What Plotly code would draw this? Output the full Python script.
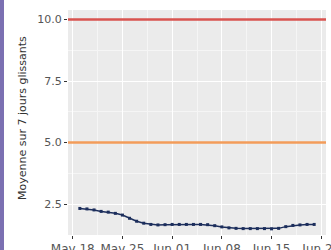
import plotly.graph_objects as go
import pandas as pd

dates = pd.date_range("2020-05-19", "2020-06-21", freq="D").strftime("%Y-%m-%d").tolist()
values = [2.32, 2.30, 2.26, 2.20, 2.17, 2.12, 2.05, 1.92, 1.80, 1.72, 1.67, 1.65,
          1.66, 1.67, 1.67, 1.67, 1.67, 1.67, 1.66, 1.62, 1.57, 1.53, 1.51, 1.50,
          1.50, 1.50, 1.50, 1.49, 1.51, 1.58, 1.63, 1.65, 1.67, 1.67]
thresholds = [10.0, 5.0]
threshold_colors = ["#D9534F", "#F39C5A"]
x_ticks = ["2020-05-18", "2020-05-25", "2020-06-01", "2020-06-08", "2020-06-15", "2020-06-22"]
x_labels = ["May 18", "May 25", "Jun 01", "Jun 08", "Jun 15", "Jun 22"]
y_ticks = [2.5, 5.0, 7.5, 10.0]
y_title = "Moyenne sur 7 jours glissants"

L, R, T, B = 68, 5, 10, 15
W, H = 331, 250
pw, ph = W - L - R, H - T - B

shapes = [dict(type="line", xref="paper", yref="y", x0=0, x1=1, y0=t, y1=t,
               line=dict(color=c, width=2.5), layer="above")
          for t, c in zip(thresholds, threshold_colors)]
shapes.append(dict(type="rect", xref="paper", yref="paper",
                   x0=-L/pw, x1=-(L-4)/pw, y0=-B/ph, y1=1+T/ph,
                   fillcolor="#7B70B2", line=dict(width=0), layer="above"))

fig = go.Figure()
fig.add_trace(go.Scatter(x=dates, y=values, mode="lines+markers",
                         line=dict(color="#1C2E5C", width=1.5),
                         marker=dict(color="#1C2E5C", size=3, symbol="square"),
                         showlegend=False))

fig.update_layout(
    width=W, height=H,
    margin=dict(l=L, r=R, t=T, b=B),
    paper_bgcolor="white", plot_bgcolor="#EBEBEB",
    font=dict(family="DejaVu Sans", color="#4D4D4D", size=10),
    showlegend=False,
    shapes=shapes,
    annotations=[dict(text=y_title, xref="paper", yref="paper",
                      x=(22-L)/pw, y=(H-B-118)/ph, textangle=-90,
                      showarrow=False, xanchor="center", yanchor="middle",
                      font=dict(size=11, color="#333333"))],
)
fig.update_xaxes(
    type="date", automargin=False,
    range=["2020-05-17 08:00", "2020-06-22 16:00"],
    tickmode="array", tickvals=x_ticks, ticktext=x_labels,
    ticklabeloverflow="allow",
    showgrid=True, gridcolor="white", gridwidth=1.2,
    minor=dict(dtick=3.5*86400000, tick0="2020-05-18", showgrid=True,
               gridcolor="#F5F5F5", gridwidth=0.6),
    ticks="outside", ticklen=3, tickcolor="#333333",
    zeroline=False, showline=False,
    tickfont=dict(size=12, color="#555555"),
)
fig.update_yaxes(
    automargin=False,
    range=[1.24, 10.39],
    tickmode="array", tickvals=y_ticks, ticktext=[f"{v:.1f}" for v in y_ticks],
    showgrid=True, gridcolor="white", gridwidth=1.2,
    minor=dict(dtick=1.25, tick0=0, showgrid=True, gridcolor="#F5F5F5", gridwidth=0.6),
    ticks="outside", ticklen=3, tickcolor="#333333",
    zeroline=False, showline=False,
    tickfont=dict(size=11, color="#555555"),
)

fig.write_html("out.html", config={"displayModeBar": False},
               post_script="document.body.style.margin='0';")
